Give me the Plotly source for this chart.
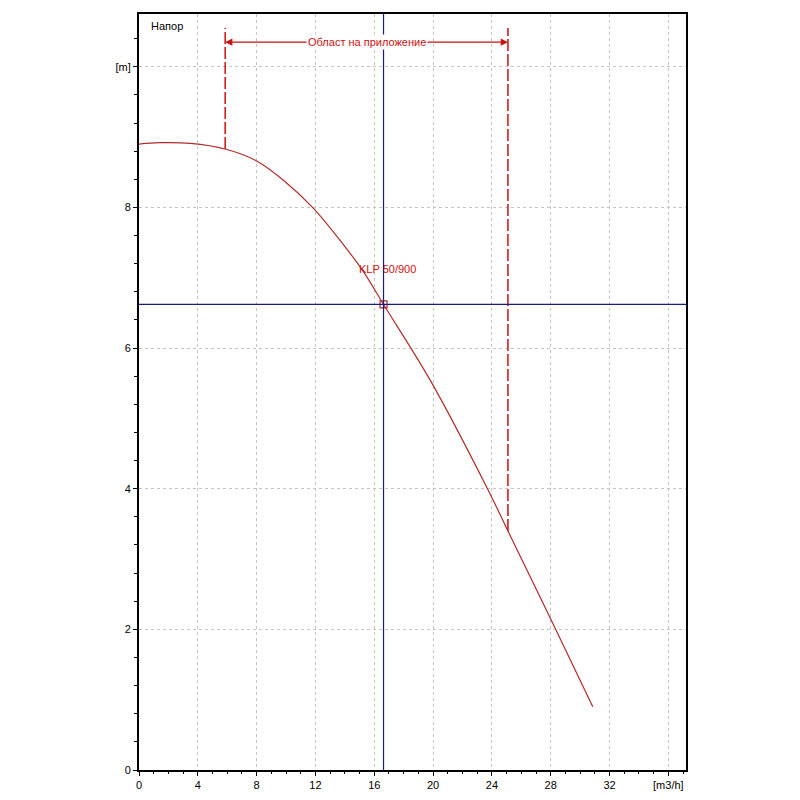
import plotly.graph_objects as go

# pump curve KLP 50/900
flow = [0, 1.4, 3.5, 5.86, 8.0, 9.8, 11.85, 13.9, 15.25, 16.63, 19.84, 23.7, 25.09, 28.36, 30.86]
head = [8.90, 8.92, 8.91, 8.83, 8.66, 8.39, 7.99, 7.47, 7.09, 6.62, 5.53, 4.0, 3.40, 1.99, 0.90]

# operating point
op_q = 16.63
op_h = 6.62

# application range
range_q = [5.86, 25.09]
range_h = [8.83, 3.40]
range_top = 10.55
arrow_h = 10.35

x_ticks = [0, 4, 8, 12, 16, 20, 24, 28, 32, 36]
x_labels = ['0', '4', '8', '12', '16', '20', '24', '28', '32', '[m3/h]']
y_ticks = [0, 2, 4, 6, 8, 10]
y_labels = ['0', '2', '4', '6', '8', '[m]']

x_max = 37.2
y_max = 10.75

red = '#cc1111'
curve_red = '#b22a2a'
blue = '#1a1a80'
font = 'Liberation Sans'

fig = go.Figure()

# application range dashed lines
for q, h in zip(range_q, range_h):
    fig.add_trace(go.Scatter(
        x=[q, q], y=[h, range_top], mode='lines',
        line=dict(color=red, width=1.5, dash='12px,3px'),
        hoverinfo='skip', showlegend=False))

fig.add_trace(go.Scatter(
    x=flow, y=head, mode='lines',
    line=dict(color=curve_red, width=1.2, shape='spline', smoothing=1.0),
    name='KLP 50/900', showlegend=False))

# operating point lines
fig.add_shape(type='line', xref='x', yref='y', x0=op_q, x1=op_q, y0=0, y1=y_max,
              line=dict(color=blue, width=1.2))
fig.add_shape(type='line', xref='x', yref='y', x0=0, x1=x_max, y0=op_h, y1=op_h,
              line=dict(color=blue, width=1.2))

fig.add_trace(go.Scatter(
    x=[op_q], y=[op_h], mode='markers',
    marker=dict(symbol='square-open', size=7, color=curve_red, line=dict(width=1.2)),
    hoverinfo='skip', showlegend=False))

# double arrow of the range
mid = (range_q[0] + range_q[1]) / 2
for q in range_q:
    fig.add_annotation(x=q, y=arrow_h, ax=mid, ay=arrow_h, axref='x', ayref='y',
                       xref='x', yref='y', text='', showarrow=True,
                       arrowhead=2, arrowsize=1.2, arrowwidth=1.2, arrowcolor=red)
fig.add_annotation(x=mid, y=arrow_h, xref='x', yref='y', text='Област на приложение',
                   showarrow=False, bgcolor='white', borderpad=1,
                   font=dict(family=font, size=11, color=red))

fig.add_annotation(x=op_q + 0.3, y=7.12, xref='x', yref='y', text='KLP 50/900',
                   showarrow=False, font=dict(family=font, size=11, color=red))

fig.add_annotation(x=0.018, y=0.995, xref='paper', yref='paper', text='Напор',
                   showarrow=False, xanchor='left', yanchor='top',
                   font=dict(family=font, size=11, color='black'))

axis_common = dict(
    showline=True, linecolor='black', linewidth=2, mirror=True,
    ticks='outside', ticklen=4, tickcolor='black',
    showgrid=True, gridcolor='#c4c4c4', gridwidth=1, griddash='3px,3px',
    zeroline=False, tickfont=dict(family=font, size=11, color='black'),
)

fig.update_xaxes(range=[0, x_max], tickmode='array', tickvals=x_ticks, ticktext=x_labels,
                 minor=dict(dtick=1, tick0=0, ticks='outside', ticklen=2, tickcolor='black',
                            showgrid=False),
                 **axis_common)
fig.update_yaxes(range=[0, y_max], tickmode='array', tickvals=y_ticks, ticktext=y_labels,
                 minor=dict(dtick=0.4, tick0=0, ticks='outside', ticklen=3, tickcolor='black',
                            showgrid=False),
                 **axis_common)

fig.update_layout(
    width=800, height=800,
    margin=dict(l=131, r=122, t=4, b=38),
    plot_bgcolor='white', paper_bgcolor='white',
    font=dict(family=font),
)

fig.write_html('out.html')
